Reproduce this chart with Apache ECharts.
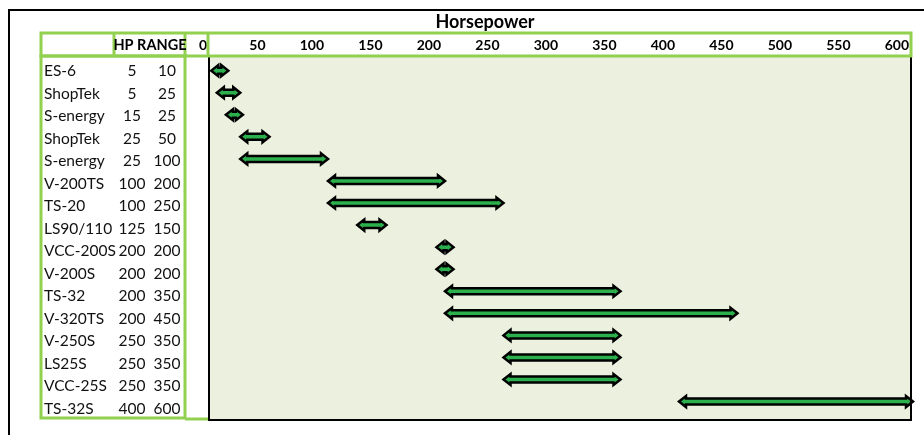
<!DOCTYPE html>
<html>
<head>
<meta charset="utf-8">
<title>Horsepower ranges</title>
<script src="https://cdn.jsdelivr.net/npm/echarts@6/dist/echarts.min.js"></script>
<style>
  html, body { margin: 0; padding: 0; background: #fff; }
  #chart { width: 924px; height: 435px; }
</style>
</head>
<body>
<div id="chart"></div>
<script>
// table rows (top to bottom)
const models = ['ES-6', 'ShopTek', 'S-energy', 'ShopTek', 'S-energy', 'V-200TS', 'TS-20', 'LS90/110',
  'VCC-200S', 'V-200S', 'TS-32', 'V-320TS', 'V-250S', 'LS25S', 'VCC-25S', 'TS-32S'];
const hpLow = [5, 5, 15, 25, 25, 100, 100, 125, 200, 200, 200, 200, 250, 250, 250, 400];
const hpHigh = [10, 25, 25, 50, 100, 200, 250, 150, 200, 200, 350, 450, 350, 350, 350, 600];
const hpTicks = [0, 50, 100, 150, 200, 250, 300, 350, 400, 450, 500, 550, 600];

const GREEN_LINE = '#92D050';
const rowIds = models.map((m, i) => String(i));

const chart = echarts.init(document.getElementById('chart'));

// double arrow from low to high
const renderArrow = (params, api) => {
  const y = api.coord([0, api.value(2)])[1];
  let x1 = api.coord([api.value(0), api.value(2)])[0];
  let x2 = api.coord([api.value(1), api.value(2)])[0];
  const minLen = 17;
  if (x2 - x1 < minLen) {
    const c = (x1 + x2) / 2;
    x1 = c - minLen / 2;
    x2 = c + minLen / 2;
  }
  const h = 7, H = 5.5, s = 3;
  return {
    type: 'polygon',
    shape: {
      points: [
        [x1, y], [x1 + h, y - H], [x1 + h, y - s], [x2 - h, y - s], [x2 - h, y - H],
        [x2, y], [x2 - h, y + H], [x2 - h, y + s], [x1 + h, y + s], [x1 + h, y + H]
      ]
    },
    style: { fill: '#2bb04d', stroke: '#000', lineWidth: 2.5, lineJoin: 'miter' },
    z2: 10
  };
};

const option = {
  animation: false,
  textStyle: { fontFamily: 'Lato' },
  grid: [
    { left: 211, right: 11, top: 59.6, height: 353 },   // arrows
    { left: 211, right: 11, top: 60, height: 360 }      // table text
  ],
  xAxis: [
    {
      gridIndex: 0,
      type: 'value',
      position: 'top',
      min: hpTicks[0],
      max: hpTicks[hpTicks.length - 1],
      interval: hpTicks[1] - hpTicks[0],
      axisLine: { show: false },
      axisTick: { show: false },
      splitLine: { show: false },
      axisLabel: {
        showMaxLabel: true,
        showMinLabel: true,
        margin: 14,
        align: 'right',
        verticalAlign: 'middle',
        padding: [0, 4, 0, 0],
        color: '#000',
        fontWeight: 'bold',
        fontSize: 14,
        fontFamily: 'Lato'
      }
    },
    { gridIndex: 1, type: 'value', min: 0, max: 600, show: false }
  ],
  yAxis: [
    {
      gridIndex: 0,
      type: 'category',
      data: rowIds,
      inverse: true,
      show: false
    },
    {
      gridIndex: 1,
      type: 'category',
      data: rowIds,
      inverse: true,
      axisLine: { show: false },
      axisTick: { show: false },
      axisLabel: {
        align: 'left',
        margin: 167,
        formatter: (v) => {
          const i = +v;
          return `{n|${models[i]}}{a|${hpLow[i]}}{b|${hpHigh[i]}}`;
        },
        rich: {
          n: { width: 68, align: 'left', fontSize: 15.5, color: '#111', fontFamily: 'Lato' },
          a: { width: 40, align: 'center', fontSize: 15.5, color: '#111', fontFamily: 'Lato' },
          b: { width: 30, align: 'center', fontSize: 15.5, color: '#111', fontFamily: 'Lato' }
        }
      }
    }
  ],
  graphic: [
    // plot background
    { type: 'rect', shape: { x: 209, y: 56, width: 702, height: 364 }, style: { fill: '#EBF1DE' }, z: -10, silent: true },
    // outer black frame
    { type: 'polyline', shape: { points: [[9, 435], [9, 10], [924, 10]] }, style: { stroke: '#000', lineWidth: 2, fill: null }, z: 50 },
    // plot frame
    { type: 'polyline', shape: { points: [[209, 56], [209, 420], [911, 420], [911, 56]] }, style: { stroke: '#000', lineWidth: 2, fill: null }, z: 50 },
    // header row (green)
    { type: 'rect', shape: { x: 41, y: 33, width: 870, height: 23 }, style: { stroke: GREEN_LINE, lineWidth: 3, fill: null }, z: 60 },
    { type: 'line', shape: { x1: 114, y1: 33, x2: 114, y2: 56 }, style: { stroke: GREEN_LINE, lineWidth: 3 }, z: 60 },
    { type: 'line', shape: { x1: 208, y1: 33, x2: 208, y2: 56 }, style: { stroke: GREEN_LINE, lineWidth: 3 }, z: 60 },
    // table body (green)
    { type: 'rect', shape: { x: 41, y: 56, width: 144, height: 362 }, style: { stroke: GREEN_LINE, lineWidth: 3, fill: null }, z: 60 },
    { type: 'line', shape: { x1: 185, y1: 33, x2: 185, y2: 56 }, style: { stroke: GREEN_LINE, lineWidth: 3 }, z: 60 },
    { type: 'line', shape: { x1: 185, y1: 419, x2: 208, y2: 419 }, style: { stroke: GREEN_LINE, lineWidth: 3 }, z: 60 },
    // titles
    {
      type: 'text', x: 485, y: 22, z: 70,
      style: { text: 'Horsepower', font: 'bold 18px Lato', fill: '#000', align: 'center', verticalAlign: 'middle' }
    },
    {
      type: 'text', x: 150, y: 45.5, z: 70,
      style: { text: 'HP RANGE', font: 'bold 14.5px Lato', fill: '#000', align: 'center', verticalAlign: 'middle' }
    }
  ],
  series: [
    {
      type: 'custom',
      xAxisIndex: 0,
      yAxisIndex: 0,
      renderItem: renderArrow,
      encode: { x: [0, 1], y: 2 },
      data: hpLow.map((lo, i) => [lo, hpHigh[i], i]),
      clip: false
    }
  ]
};

chart.setOption(option);
</script>
</body>
</html>
